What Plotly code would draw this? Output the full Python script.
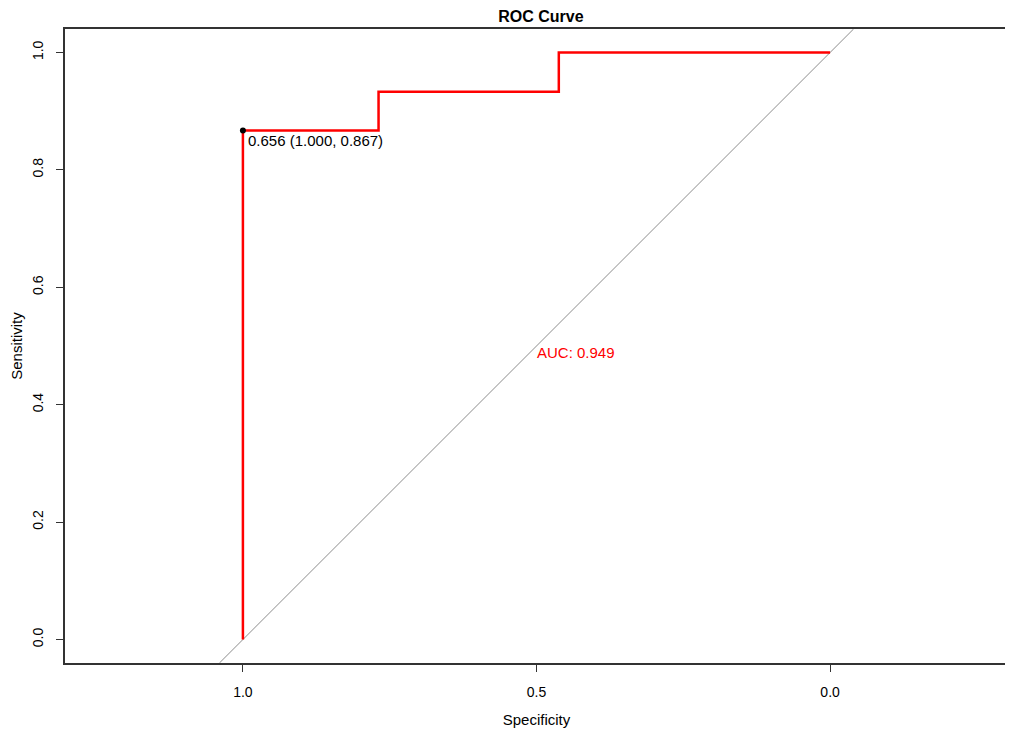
import plotly.graph_objects as go

# ROC curve data (specificity, sensitivity)
specificity = [1.0, 1.0, 0.769, 0.769, 0.462, 0.462, 0.0]
sensitivity = [0.0, 0.867, 0.867, 0.933, 0.933, 1.0, 1.0]

best_threshold = 0.656
best_spec = 1.000
best_sens = 0.867
auc_value = 0.949

x_ticks = [1.0, 0.5, 0.0]
x_tick_labels = ["1.0", "0.5", "0.0"]
y_ticks = [0.0, 0.2, 0.4, 0.6, 0.8, 1.0]
y_tick_labels = ["0.0", "0.2", "0.4", "0.6", "0.8", "1.0"]

x_range = [1.303, -0.303]
y_range = [-0.04, 1.04]

FONT = "Liberation Sans, Arial, Helvetica, sans-serif"

fig = go.Figure()

# diagonal reference line (sens = 1 - spec) spanning the plot
diag_y = [y_range[0], y_range[1]]
diag_x = [1 - v for v in diag_y]
fig.add_trace(go.Scatter(x=diag_x, y=diag_y, mode="lines",
                         line=dict(color="#8c8c8c", width=1), hoverinfo="skip",
                         showlegend=False))

fig.add_trace(go.Scatter(x=specificity, y=sensitivity, mode="lines",
                         line=dict(color="#ff0000", width=2.5), showlegend=False))

fig.add_trace(go.Scatter(x=[best_spec], y=[best_sens], mode="markers",
                         marker=dict(color="black", size=6), showlegend=False))

fig.add_annotation(x=best_spec, y=best_sens, xref="x", yref="y",
                   text=f"{best_threshold:.3f} ({best_spec:.3f}, {best_sens:.3f})",
                   showarrow=False, xanchor="left", yanchor="top",
                   xshift=3, yshift=1,
                   font=dict(family=FONT, size=15, color="black"))

fig.add_annotation(x=0.5, y=0.5, xref="x", yref="y",
                   text=f"AUC: {auc_value:.3f}",
                   showarrow=False, xanchor="left", yanchor="top",
                   xshift=-2, yshift=4,
                   font=dict(family=FONT, size=15, color="#ff0000"))

fig.update_layout(
    width=1005, height=722,
    margin=dict(l=57, r=5, t=21, b=67),
    plot_bgcolor="white", paper_bgcolor="white",
    title=dict(text="<b>ROC Curve</b>", x=0.5303, xanchor="center",
               y=0.988, yanchor="middle",
               font=dict(family=FONT, size=16, color="black")),
    font=dict(family=FONT, size=14, color="black"),
    xaxis=dict(range=x_range, tickvals=x_ticks, ticktext=x_tick_labels,
               showgrid=False, zeroline=False, showline=True, mirror=True,
               linecolor="#333333", linewidth=1.5, ticks="outside", ticklen=7,
               tickcolor="#333333", ticklabelstandoff=8, automargin=False,
               title=dict(text="Specificity", standoff=16,
                          font=dict(family=FONT, size=15))),
    yaxis=dict(range=y_range, tickvals=y_ticks, ticktext=y_tick_labels,
               showgrid=False, zeroline=False, showline=True, mirror=True,
               linecolor="#333333", linewidth=1.5, ticks="outside", ticklen=7,
               tickcolor="#333333", tickangle=-90, ticklabelstandoff=8,
               automargin=False,
               title=dict(text="Sensitivity", standoff=10,
                          font=dict(family=FONT, size=15))),
)

fig.write_html("out.html")
